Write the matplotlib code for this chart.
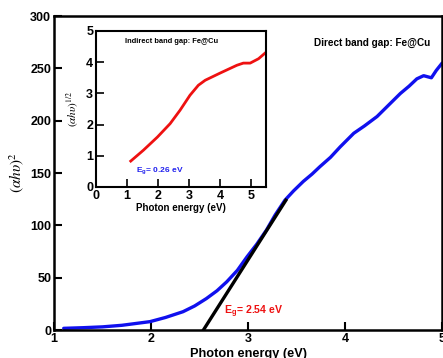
import matplotlib
matplotlib.use("Agg")
import matplotlib.pyplot as plt
import numpy as np

plt.rcParams['font.family'] = ['Liberation Sans', 'DejaVu Sans']
plt.rcParams['mathtext.fontset'] = 'stix'

# Main (direct) data
direct_x = [1.10, 1.30, 1.50, 1.70, 1.99, 2.15, 2.33, 2.45, 2.57, 2.68, 2.78, 2.89, 2.99, 3.09, 3.19,
            3.28, 3.38, 3.47, 3.57, 3.66, 3.74, 3.85, 3.95, 4.09, 4.20, 4.33, 4.45, 4.57, 4.66, 4.74,
            4.81, 4.89, 4.94, 5.00]
direct_y = [1.6, 2.2, 3.0, 4.5, 8.0, 12.0, 17.5, 23.0, 30.0, 37.5, 46.0, 57.0, 70.0, 82.0, 95.5,
            110.0, 124.0, 133.0, 142.0, 149.0, 156.0, 165.0, 175.0, 188.0, 195.0, 204.0, 215.0, 226.0, 233.0, 240.0,
            243.0, 241.0, 248.0, 255.0]
fit_x = [2.54, 3.39]
fit_y = [0.0, 124.0]

# Inset (indirect) data
indirect_x = [1.12, 1.53, 1.98, 2.39, 2.71, 3.03, 3.30, 3.52, 4.00, 4.54, 4.75, 4.97, 5.24, 5.45]
indirect_y = [0.83, 1.18, 1.60, 2.03, 2.46, 2.94, 3.26, 3.42, 3.65, 3.90, 3.97, 3.97, 4.11, 4.29]

fig = plt.figure(figsize=(4.43, 3.58), dpi=100)
ax = fig.add_axes([0.1219, 0.0782, 0.876, 0.877])
ax.plot(direct_x, direct_y, color='#1010ee', lw=2.4, solid_capstyle='round', zorder=2)
ax.plot(fit_x, fit_y, color='black', lw=2.4, zorder=3)
ax.set_xlim(1, 5)
ax.set_ylim(0, 300)
ax.set_xticks([1, 2, 3, 4, 5])
ax.set_yticks([0, 50, 100, 150, 200, 250, 300])
ax.tick_params(direction='in', length=6, width=1.5, labelsize=9, pad=2)
for lab in ax.get_xticklabels() + ax.get_yticklabels():
    lab.set_fontweight('bold')
for s in ax.spines.values():
    s.set_linewidth(1.8)
ax.set_xlabel('Photon energy (eV)', fontsize=9.2, fontweight='bold', labelpad=2)
ax.set_ylabel(r'($\alpha h\upsilon$)$^2$', fontsize=11, family='STIXGeneral', labelpad=3)
ax.text(0.969, 0.914, 'Direct band gap: Fe@Cu', transform=ax.transAxes, fontsize=7.2,
        fontweight='bold', ha='right', va='center')
ax.text(2.75, 15, r'E$_\mathregular{g}$= 2.54 eV', color='#ee1111', fontsize=7.6, fontweight='bold')

ins = fig.add_axes([0.2167, 0.4777, 0.3837, 0.4358])
ins.plot(indirect_x, indirect_y, color='#ee1111', lw=2.0)
ins.set_xlim(0, 5.48)
ins.set_ylim(0, 5)
ins.set_xticks([0, 1, 2, 3, 4, 5])
ins.set_yticks([0, 1, 2, 3, 4, 5])
ins.tick_params(direction='in', length=6, width=1.2, labelsize=9, pad=2)
for lab in ins.get_xticklabels() + ins.get_yticklabels():
    lab.set_fontweight('bold')
for s in ins.spines.values():
    s.set_linewidth(1.5)
ins.set_xlabel('Photon energy (eV)', fontsize=7, fontweight='bold', labelpad=1)
ins.set_ylabel(r'($\alpha h\upsilon$)$^{1/2}$', fontsize=8, family='STIXGeneral', labelpad=4)
ins.text(0.447, 0.93, 'Indirect band gap: Fe@Cu', transform=ins.transAxes, fontsize=5.4,
         fontweight='bold', ha='center', va='center')
ins.text(1.3, 0.5, r'E$_\mathregular{g}$= 0.26 eV', color='#2222ee', fontsize=6, fontweight='bold')

fig.savefig('out.png', dpi=100)
